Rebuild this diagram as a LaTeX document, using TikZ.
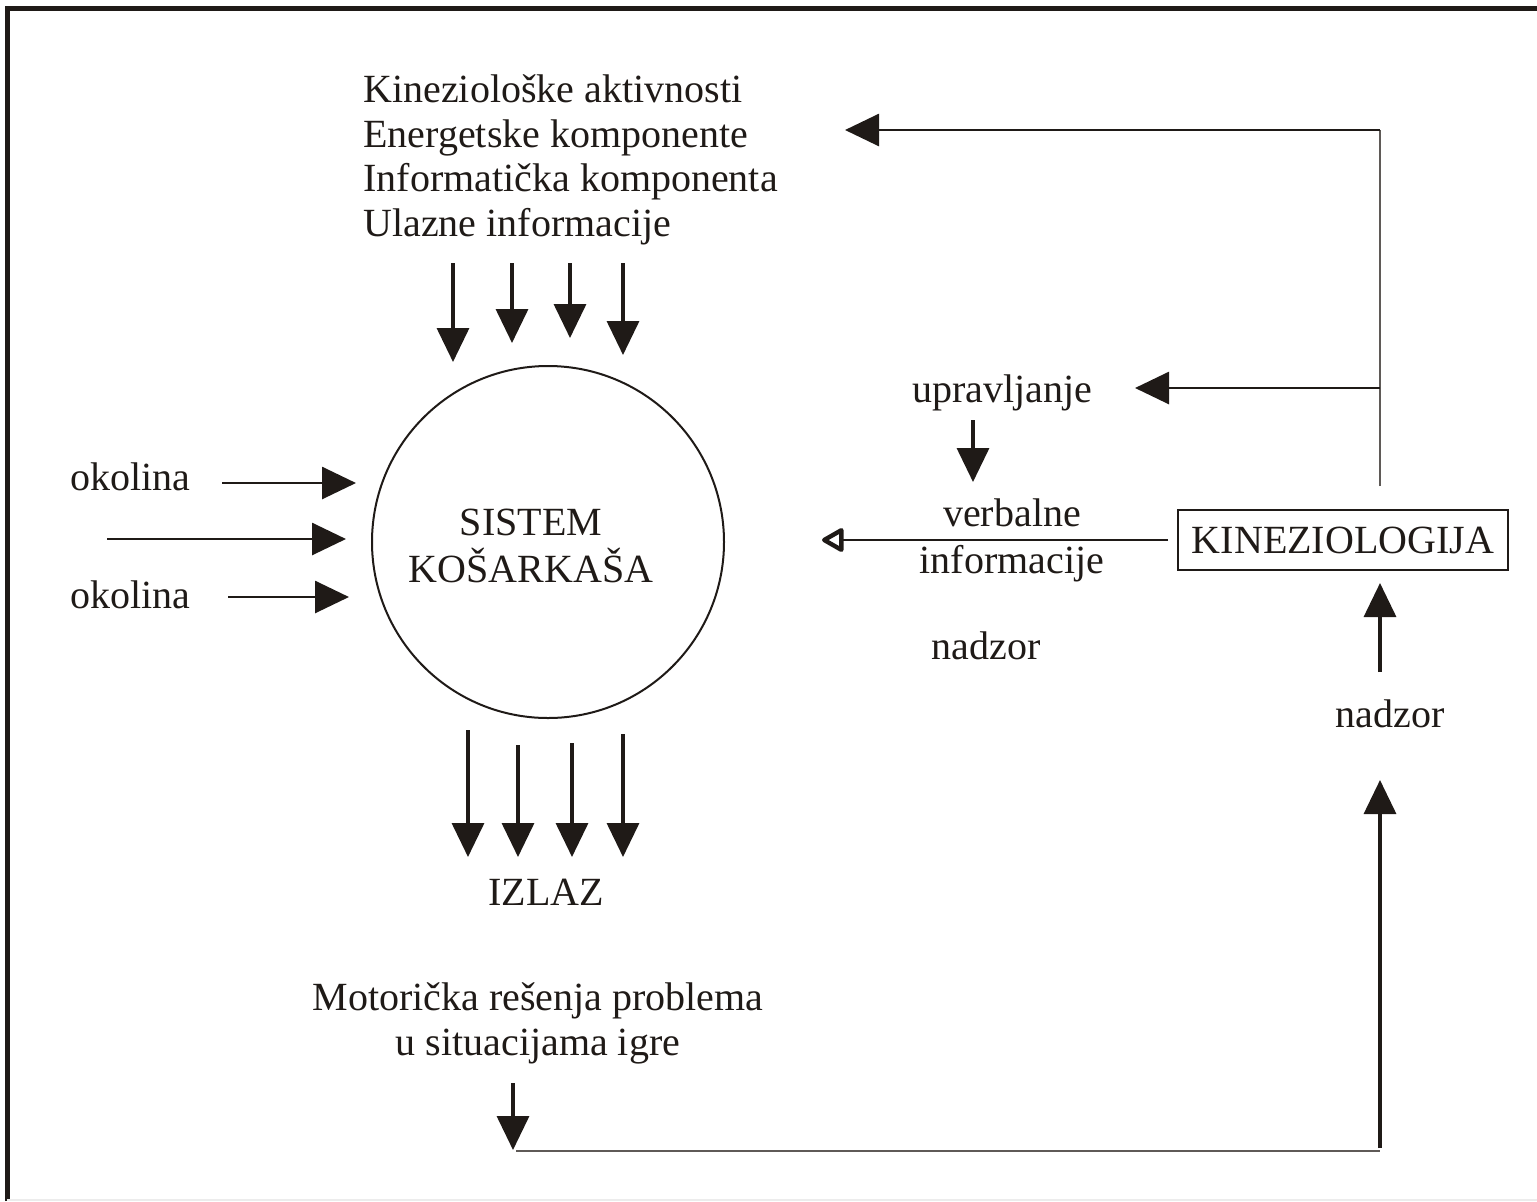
\documentclass[tikz,border=0pt]{standalone}
\usepackage{fontspec}
\setmainfont{Liberation Serif}
\usepackage{tikz}
\usetikzlibrary{arrows.meta, positioning}
\usepackage{xcolor}
\definecolor{ink}{HTML}{1F1A17}
\definecolor{wire}{HTML}{5F5A57}
\tikzset{
  lbl/.style={font=\fontsize{20}{22.4}\selectfont, inner sep=0pt, text=ink},
  flow/.style={draw=ink, line width=1.7pt, -{Triangle[length=17pt,width=16pt]}},
  thinflow/.style={draw=ink, line width=1.4pt, -{Triangle[length=17pt,width=16pt]}},
  openflow/.style={draw=ink, line width=1.4pt, -{Triangle[open,length=12pt,width=13pt,line width=2.2pt,round]}},
  wireline/.style={draw=wire, line width=1.1pt}
}
\begin{document}
\begin{tikzpicture}[x=0.5pt, y=-0.5pt]
  \useasboundingbox (0,0) rectangle (1537,1201);
  % frame
  \draw[ink, line width=2.5pt] (7,1201) -- (7,8) -- (1537,8);
  \draw[gray!15, line width=0.8pt] (7,1200) -- (1537,1200);

  % system
  \node[circle, draw=ink, line width=1pt, minimum size=176pt, inner sep=0pt] (sys) at (548,542) {};
  \node[lbl, align=center] (sysname) at (531,546) {SISTEM\\[1pt]KOŠARKAŠA};

  % inputs
  \node[lbl, align=left, anchor=north west] (ulaz) at (363,74) {Kineziološke aktivnosti\\Energetske komponente\\Informatička komponenta\\Ulazne informacije};
  \coordinate (in1) at (453,263); \coordinate (in1e) at (453,362);
  \coordinate (in2) at (512,263); \coordinate (in2e) at (512,343);
  \coordinate (in3) at (570,263); \coordinate (in3e) at (570,338);
  \coordinate (in4) at (623,263); \coordinate (in4e) at (623,355);
  \draw[flow] (in1) -- (in1e);
  \draw[flow] (in2) -- (in2e);
  \draw[flow] (in3) -- (in3e);
  \draw[flow] (in4) -- (in4e);

  % environment
  \node[lbl, anchor=base west] (okolA) at (70,490) {okolina};
  \node[lbl, anchor=base west] (okolB) at (70,608) {okolina};
  \coordinate (env1) at (222,483); \coordinate (env1e) at (356,483);
  \coordinate (env2) at (107,539); \coordinate (env2e) at (346,539);
  \coordinate (env3) at (228,597); \coordinate (env3e) at (349,597);
  \draw[thinflow] (env1) -- (env1e);
  \draw[thinflow] (env2) -- (env2e);
  \draw[thinflow] (env3) -- (env3e);

  % outputs
  \coordinate (out1) at (468,730); \coordinate (out1e) at (468,857);
  \coordinate (out2) at (518,745); \coordinate (out2e) at (518,857);
  \coordinate (out3) at (572,743); \coordinate (out3e) at (572,857);
  \coordinate (out4) at (623,734); \coordinate (out4e) at (623,857);
  \draw[flow] (out1) -- (out1e);
  \draw[flow] (out2) -- (out2e);
  \draw[flow] (out3) -- (out3e);
  \draw[flow] (out4) -- (out4e);
  \node[lbl, anchor=base] (izlaz) at (546,905) {IZLAZ};
  \node[lbl, align=center, anchor=north] (motor) at (538,982) {Motorička rešenja problema\\u situacijama igre};

  % kinesiology
  \node[lbl, draw=ink, line width=1pt, minimum width=165pt, minimum height=30pt] (kin) at (1343,540) {KINEZIOLOGIJA};
  \node[lbl, anchor=base] (upr) at (1002,402) {upravljanje};
  \node[lbl, align=center] (verb) at (1012,540) {verbalne\\[1pt]informacije};
  \node[lbl, anchor=base] (nadzorA) at (986,659) {nadzor};
  \node[lbl, anchor=base] (nadzorB) at (1390,727) {nadzor};

  \coordinate (kinUp) at (1380,486);
  \coordinate (fbTop) at (1380,130); \coordinate (fbTopE) at (845,130);
  \coordinate (fbMid) at (1380,388); \coordinate (fbMidE) at (1135,388);
  \draw[wireline] (kinUp) -- (fbTop);
  \draw[thinflow] (fbTop) -- (fbTopE);
  \draw[thinflow] (fbMid) -- (fbMidE);

  \coordinate (uprA) at (973,420); \coordinate (uprB) at (973,482);
  \draw[flow] (uprA) -- (uprB);

  \coordinate (verbA) at (1168,540); \coordinate (verbB) at (822,540);
  \draw[openflow] (verbA) -- (verbB);

  % feedback from the output
  \coordinate (motA) at (513,1083); \coordinate (motB) at (513,1150);
  \coordinate (loopL) at (516,1151); \coordinate (loopR) at (1380,1151);
  \coordinate (nadB) at (1380,1148); \coordinate (nadBe) at (1380,780);
  \coordinate (nadA) at (1380,672); \coordinate (nadAe) at (1380,583);
  \draw[flow] (motA) -- (motB);
  \draw[wireline] (loopL) -- (loopR);
  \draw[flow] (nadB) -- (nadBe);
  \draw[flow] (nadA) -- (nadAe);
\end{tikzpicture}
\end{document}
